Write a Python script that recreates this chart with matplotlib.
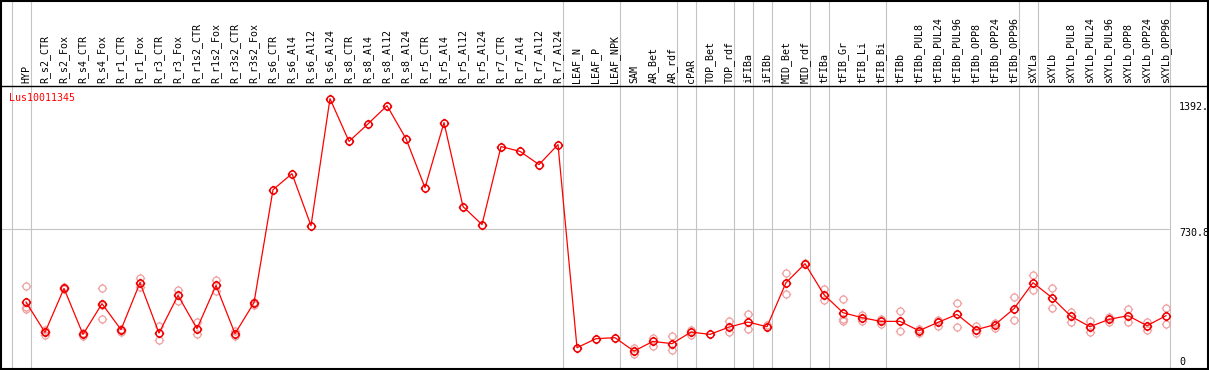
import numpy as np
import matplotlib
matplotlib.use("Agg")
import matplotlib.pyplot as plt
from matplotlib.path import Path
from matplotlib.lines import Line2D
import matplotlib.transforms as mtransforms

nan = np.nan

title = "Lus10011345"

samples = ["HYP", "R_s2_CTR", "R_s2_Fox", "R_s4_CTR", "R_s4_Fox", "R_r1_CTR", "R_r1_Fox",
           "R_r3_CTR", "R_r3_Fox", "R_r1s2_CTR", "R_r1s2_Fox", "R_r3s2_CTR", "R_r3s2_Fox",
           "R_s6_CTR", "R_s6_Al4", "R_s6_Al12", "R_s6_Al24", "R_s8_CTR", "R_s8_Al4",
           "R_s8_Al12", "R_s8_Al24", "R_r5_CTR", "R_r5_Al4", "R_r5_Al12", "R_r5_Al24",
           "R_r7_CTR", "R_r7_Al4", "R_r7_Al12", "R_r7_Al24", "LEAF_N", "LEAF_P", "LEAF_NPK",
           "SAM", "AR_Bet", "AR_rdf", "cPAR", "TOP_Bet", "TOP_rdf", "iFIBa", "iFIBb",
           "MID_Bet", "MID_rdf", "tFIBa", "tFIB_Gr", "tFIB_Li", "tFIB_Bi", "tFIBb",
           "tFIBb_PUL8", "tFIBb_PUL24", "tFIBb_PUL96", "tFIBb_OPP8", "tFIBb_OPP24",
           "tFIBb_OPP96", "sXYLa", "sXYLb", "sXYLb_PUL8", "sXYLb_PUL24", "sXYLb_PUL96",
           "sXYLb_OPP8", "sXYLb_OPP24", "sXYLb_OPP96"]

means = [357.5, 203.3, 427.1, 193.2, 349.3, 217.1, 456.1, 199.8, 391.5, 222.2, 442.4,
         196.7, 354.4, 929.1, 1010.5, 746.0, 1392.0, 1174.8, 1263.8, 1356.4, 1188.5,
         939.3, 1270.4, 843.2, 751.6, 1148.4, 1124.0, 1056.8, 1158.5, 125.5, 171.3,
         176.4, 108.2, 157.6, 145.9, 204.9, 193.2, 230.3, 255.7, 232.3, 456.1, 552.8,
         395.1, 303.5, 278.1, 259.3, 259.3, 212.0, 254.2, 294.9, 217.1, 242.5, 323.9,
         456.1, 379.8, 284.7, 232.3, 269.5, 288.3, 237.4, 288.3]

rep_a = [437.3, 213.5, 432.2, 199.8, 430.8, 222.2, 479.5, 235.4, 417.0, 257.8, 467.8,
         208.4, 357.5, nan, nan, nan, nan, nan, nan, nan, nan,
         nan, nan, nan, nan, nan, nan, nan, nan, nan, nan,
         nan, 125.5, 176.4, 183.0, 217.1, nan, 260.8, 298.5, 238.9, 505.0, 555.8,
         423.6, 374.8, 289.8, 273.0, 310.2, 218.6, 267.9, 354.4, 233.9, 250.6, 384.9,
         493.3, 427.1, 306.6, 260.8, 281.2, 320.3, 257.8, 329.0]

rep_b = [333.0, 188.1, 422.0, 183.0, 273.0, 204.9, 433.7, 162.7, 362.5, 193.2, 413.4,
         183.0, 344.2, nan, nan, nan, nan, nan, nan, nan, nan,
         nan, nan, nan, nan, nan, nan, nan, nan, nan, nan,
         nan, 91.4, 133.7, 115.4, 188.1, nan, 204.9, 220.1, nan, 400.2, nan,
         369.7, 273.0, 259.3, 244.0, 212.0, 199.8, 237.4, 232.3, 201.8, 227.3, 264.4,
         420.5, 329.0, 254.2, 203.3, 255.7, 257.8, 213.5, 247.6]

rep_c = [322.9, 203.0, nan, nan, 344.0, nan, nan, nan, nan, nan, nan,
         nan, nan, nan, nan, nan, nan, nan, nan, nan, nan,
         nan, nan, nan, nan, nan, nan, nan, nan, nan, nan,
         nan, nan, nan, nan, nan, nan, nan, nan, nan, nan, nan,
         nan, 259.3, nan, nan, nan, nan, nan, nan, nan, nan, nan,
         nan, nan, nan, nan, nan, nan, nan, nan]

# indices after which a group separator line is drawn
group_ends = [-1, 0, 28, 31, 34, 35, 37, 38, 39, 41, 42, 45, 52, 53]

y_ticks = [1392.0, 730.8, 0]
y_tick_labels = ["1392.", "730.8", "0"]
y_top = 1461.6

W, H = 1209, 370
fig = plt.figure(figsize=(W / 100, H / 100), dpi=100)
fig.patch.set_facecolor("white")

ax_left_px, ax_right_px = 1, 1170
ax_top_px, ax_bot_px = 85, 369
ax = fig.add_axes([ax_left_px / W, (H - ax_bot_px) / H,
                   (ax_right_px - ax_left_px) / W, (ax_bot_px - ax_top_px) / H])
ax.set_facecolor("white")
for s in ax.spines.values():
    s.set_visible(False)
ax.set_xticks([])
ax.set_yticks([])

x0_px, dx_px = 26, 19
ax.set_xlim((ax_left_px - x0_px) / dx_px, (ax_right_px - x0_px) / dx_px)
px_per_val = 143.68 / 730.8
ax.set_ylim(y_top - (ax_bot_px - ax_top_px) / px_per_val, y_top)

x = np.arange(len(samples))
gray = "#c4c4c4"
ext_top = (ax_bot_px - 0) / (ax_bot_px - ax_top_px)

for g in group_ends:
    ax.axvline(g + 0.237, ymin=0, ymax=ext_top, color=gray, lw=0.8, clip_on=False, zorder=1)
ax.axvline(ax.get_xlim()[1], ymin=0, ymax=ext_top, color=gray, lw=0.8, clip_on=False, zorder=1)
ax.axhline(730.8, color=gray, lw=0.8, zorder=1)

# custom marker: circle with four small ticks
verts_tick = [((0, 1), (0, 1.35)), ((0, -1), (0, -1.35)), ((1, 0), (1.35, 0)), ((-1, 0), (-1.35, 0))]
paths = [Path.unit_circle()] + [Path(list(v)) for v in verts_tick]
marker_path = Path.make_compound_path(*paths)

rep_color = "#f0a0a0"
for reps in (rep_a, rep_b, rep_c):
    ax.plot(x, reps, linestyle="none", marker=marker_path, markersize=6.8,
            markerfacecolor="none", markeredgecolor=rep_color, markeredgewidth=0.9, zorder=2)

ax.plot(x, means, color="#ff0000", lw=0.9, zorder=3)
ax.plot(x, means, linestyle="none", marker=marker_path, markersize=6.8,
        markerfacecolor="none", markeredgecolor="#ee0000", markeredgewidth=1.1, zorder=4)

mono = "DejaVu Sans Mono"
fs = 7.2
trans = mtransforms.blended_transform_factory(ax.transData, ax.transAxes)
for i, lab in enumerate(samples):
    ax.text(i, 1 + 2.0 / (ax_bot_px - ax_top_px), lab, rotation=90, ha="center", va="bottom",
            transform=trans, fontsize=fs, family=mono, color="black", clip_on=False)

fig.text(9.3 / W, 1 - 97.7 / H, title, color="red", fontsize=fs, family=mono,
         ha="left", va="center")

tick_y_px = [106.7, 232.7, 362.3]
for lab, ypx in zip(y_tick_labels, tick_y_px):
    fig.text(1179 / W, 1 - ypx / H, lab, color="black", fontsize=fs, family=mono,
             ha="left", va="center")

# outer frame and header separator
def fline(xs, ys, lw):
    fig.add_artist(Line2D([v / W for v in xs], [1 - v / H for v in ys], color="black",
                          lw=lw, transform=fig.transFigure))

fline([0.5, 1208], [0.8, 0.8], 1.5)
fline([0.5, 1208], [369, 369], 1.5)
fline([1.2, 1.2], [0, 370], 1.5)
fline([1207.5, 1207.5], [0, 370], 1.5)
fline([0, 1209], [85.5, 85.5], 1.0)

fig.savefig("out.png", dpi=100, facecolor="white")
